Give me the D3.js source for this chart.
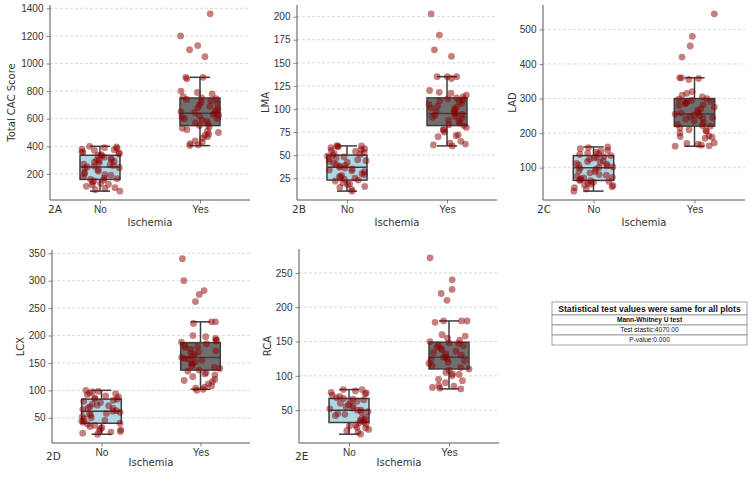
<!DOCTYPE html>
<html><head><meta charset="utf-8">
<script src="https://cdn.jsdelivr.net/npm/d3@7"></script>
<style>
body{margin:0;background:#fff;}
svg{display:block;font-family:"DejaVu Sans",sans-serif;}
</style></head>
<body><svg id="chart" width="750" height="484"></svg>
<script>
// ---------- DATA ----------
const categories = ["No", "Yes"];
const panelLabels = ["2A", "2B", "2C", "2D", "2E"];
const yTitles = ["Total CAC Score", "LMA", "LAD", "LCX", "RCA"];
const xTitle = "Ischemia";

const yTicksA = [200, 400, 600, 800, 1000, 1200, 1400];
const yTicksB = [25, 50, 75, 100, 125, 150, 175, 200];
const yTicksC = [100, 200, 300, 400, 500];
const yTicksD = [50, 100, 150, 200, 250, 300, 350];
const yTicksE = [50, 100, 150, 200, 250];

// box stats [whiskerLow, q1, median, q3, whiskerHigh] per category (No, Yes)
const boxA = [[75, 160, 250, 335, 400], [405, 550, 640, 750, 900]];
const boxB = [[11, 23, 37, 50, 60], [60, 82, 95, 112, 135]];
const boxC = [[32, 63, 100, 135, 160], [162, 220, 255, 300, 360]];
const boxD = [[20, 40, 62, 84, 100], [102, 137, 160, 187, 225]];
const boxE = [[15, 32, 50, 67, 80], [81, 110, 127, 149, 180]];

// individual observations
const ptsA_No = [400,395,390,385,380,375,370,360,355,350,345,340,335,330,320,310,305,300,295,290,285,280,270,265,260,255,250,245,240,230,220,210,200,195,190,180,170,165,160,155,150,140,130,125,120,110,100,95,85,75];
const ptsA_Yes = [405,410,420,430,440,460,470,480,490,500,510,520,530,540,550,560,570,580,590,600,600,610,620,625,630,640,645,650,660,670,680,690,700,710,720,730,740,745,750,760,780,790,800,890,900,900,1050,1100,1130,1200,1360];
const ptsB_No = [11,13,15,16,18,19,20,22,23,24,25,26,27,28,29,30,32,33,34,35,36,37,38,39,40,41,42,43,44,45,46,47,48,49,50,51,52,53,54,55,56,57,58,59,60,60,60];
const ptsB_Yes = [60,61,62,63,65,70,71,72,75,77,78,80,82,83,85,87,88,90,91,92,93,94,95,96,97,98,100,101,102,103,105,106,108,109,110,111,112,113,115,117,118,120,133,135,135,135,157,164,180,203];
const ptsC_No = [32,38,42,45,48,50,52,55,58,60,62,63,65,68,70,72,75,78,80,85,88,90,95,98,100,102,105,108,110,112,115,118,120,125,128,130,132,135,138,140,142,145,148,150,155,158,160];
const ptsC_Yes = [162,163,165,168,170,172,185,188,190,192,200,205,208,210,215,220,222,225,230,235,240,242,245,248,250,252,255,258,260,265,270,275,280,282,285,288,290,292,295,298,300,305,310,315,320,355,358,360,360,420,452,480,545];
const ptsD_No = [20,22,24,25,27,28,30,32,34,36,38,40,42,44,45,48,50,52,55,57,58,60,62,63,65,67,68,70,72,73,75,78,80,82,84,85,86,88,90,92,94,95,97,98,100];
const ptsD_Yes = [100,102,104,106,108,112,116,118,120,125,128,130,132,135,137,140,142,145,148,150,152,155,157,158,160,162,165,168,170,172,175,178,180,182,185,188,190,192,195,198,200,222,225,225,262,275,282,300,340];
const ptsE_No = [15,18,20,22,24,25,27,28,30,32,33,35,36,38,40,42,44,45,47,48,50,50,52,53,55,56,58,60,62,63,65,66,67,68,70,72,74,75,76,78,80,80];
const ptsE_Yes = [81,82,83,85,86,90,93,95,100,102,103,105,108,110,112,115,118,120,122,124,125,127,128,130,132,134,136,138,140,142,144,145,147,148,150,152,155,158,160,178,180,180,180,210,220,226,240,272];

const tableRows = ["Statistical test values were same for all plots", "Mann-Whitney U test", "Test stastic:4070.00", "P-value:0.000"];

// ---------- LAYOUT ----------
const panels = [
  {box: boxA, pts: [ptsA_No, ptsA_Yes], ticks: yTicksA, x0: 50, x1: 250, y0: 5, y1: 200, ylx: 11, lx: 48, ly: 213, xty: 226},
  {box: boxB, pts: [ptsB_No, ptsB_Yes], ticks: yTicksB, x0: 297, x1: 497, y0: 5, y1: 200, ylx: 265, lx: 292, ly: 213, xty: 226},
  {box: boxC, pts: [ptsC_No, ptsC_Yes], ticks: yTicksC, x0: 543, x1: 745, y0: 5, y1: 200, ylx: 512, lx: 537, ly: 213, xty: 226},
  {box: boxD, pts: [ptsD_No, ptsD_Yes], ticks: yTicksD, x0: 52, x1: 250, y0: 250, y1: 443, ylx: 20, lx: 46, ly: 460, xty: 466},
  {box: boxE, pts: [ptsE_No, ptsE_Yes], ticks: yTicksE, x0: 299, x1: 499, y0: 249, y1: 443, ylx: 267, lx: 295, ly: 460, xty: 466}
];

const svg = d3.select("#chart");
const boxFill = ["#add8e6", "#6f6f6f"];
const edge = "#3d3d3d";

// deterministic jitter generator (horizontal spread only)
function lcg(seed){ let s = seed; return () => { s = (s * 1664525 + 1013904223) % 4294967296; return s / 4294967296; }; }

panels.forEach((p, i) => {
  const all = p.pts[0].concat(p.pts[1]);
  const mn = d3.min(all), mx = d3.max(all), pad = (mx - mn) * 0.05;
  const y = d3.scaleLinear().domain([mn - pad, mx + pad]).range([p.y1, p.y0]);
  const x = d3.scaleLinear().domain([-0.5, 1.5]).range([p.x0, p.x1]);
  const g = svg.append("g");

  // grid
  g.selectAll("line.grid").data(p.ticks).join("line")
    .attr("x1", p.x0).attr("x2", p.x1)
    .attr("y1", d => y(d)).attr("y2", d => y(d))
    .attr("stroke", "#d0d0d0").attr("stroke-width", 0.8).attr("stroke-dasharray", "3,2");

  // y axis
  const ya = g.append("g").attr("transform", `translate(${p.x0},0)`)
    .call(d3.axisLeft(y).tickValues(p.ticks).tickFormat(d3.format("d")).tickSize(3.5).tickPadding(3));
  ya.select(".domain").remove();
  ya.selectAll(".tick line").attr("stroke", "#888");
  ya.selectAll("text").attr("font-size", 10).attr("fill", "#333");

  // x axis
  const xa = g.append("g").attr("transform", `translate(0,${p.y1})`)
    .call(d3.axisBottom(x).tickValues([0, 1]).tickFormat(d => categories[d]).tickSize(3.5).tickPadding(2));
  xa.select(".domain").remove();
  xa.selectAll(".tick line").attr("stroke", "#888");
  xa.selectAll("text").attr("font-size", 10).attr("fill", "#333");

  // spines
  g.append("line").attr("x1", p.x0).attr("x2", p.x0).attr("y1", p.y0).attr("y2", p.y1).attr("stroke", "#555").attr("stroke-width", 1);
  g.append("line").attr("x1", p.x0).attr("x2", p.x1).attr("y1", p.y1).attr("y2", p.y1).attr("stroke", "#555").attr("stroke-width", 1);

  // boxes
  p.box.forEach((b, c) => {
    const cx = x(c), hw = (x(0.2) - x(0)), cw = (x(0.1) - x(0));
    const bg = g.append("g");
    bg.append("line").attr("x1", cx).attr("x2", cx).attr("y1", y(b[0])).attr("y2", y(b[1])).attr("stroke", edge).attr("stroke-width", 1.5);
    bg.append("line").attr("x1", cx).attr("x2", cx).attr("y1", y(b[3])).attr("y2", y(b[4])).attr("stroke", edge).attr("stroke-width", 1.5);
    bg.append("line").attr("x1", cx - cw).attr("x2", cx + cw).attr("y1", y(b[0])).attr("y2", y(b[0])).attr("stroke", edge).attr("stroke-width", 1.5);
    bg.append("line").attr("x1", cx - cw).attr("x2", cx + cw).attr("y1", y(b[4])).attr("y2", y(b[4])).attr("stroke", edge).attr("stroke-width", 1.5);
    bg.append("rect").attr("x", cx - hw).attr("width", 2 * hw).attr("y", y(b[3])).attr("height", y(b[1]) - y(b[3]))
      .attr("fill", boxFill[c]).attr("stroke", edge).attr("stroke-width", 1.5);
    bg.append("line").attr("x1", cx - hw).attr("x2", cx + hw).attr("y1", y(b[2])).attr("y2", y(b[2])).attr("stroke", edge).attr("stroke-width", 1.5);
  });

  // points
  p.pts.forEach((arr, c) => {
    const rnd = lcg(1000 * i + 17 * c + 7);
    g.append("g").selectAll("circle").data(arr).join("circle")
      .attr("cx", () => x(c + (rnd() - 0.5) * 0.4))
      .attr("cy", d => y(d))
      .attr("r", 3.4)
      .attr("fill", "#8b0000").attr("fill-opacity", 0.5);
  });

  // labels
  g.append("text").attr("x", p.lx).attr("y", p.ly)
    .attr("font-size", 10.5).attr("fill", "#333").text(panelLabels[i]);
  g.append("text").attr("x", (p.x0 + p.x1) / 2).attr("y", p.xty).attr("text-anchor", "middle")
    .attr("font-size", 10).attr("fill", "#333").text(xTitle);
  g.append("text").attr("transform", `translate(${p.ylx},${(p.y0 + p.y1) / 2}) rotate(-90)`)
    .attr("text-anchor", "middle").attr("dy", "0.35em").attr("font-size", 10).attr("fill", "#333").text(yTitles[i]);
});

// ---------- TABLE ----------
const tx0 = 552, tx1 = 747;
const rowH = [13, 10, 10, 10];
let ty = 302;
const tg = svg.append("g");
tableRows.forEach((t, r) => {
  tg.append("rect").attr("x", tx0).attr("y", ty).attr("width", tx1 - tx0).attr("height", rowH[r])
    .attr("fill", "#fff").attr("stroke", "#8c8c8c").attr("stroke-width", 0.8);
  tg.append("text").attr("x", (tx0 + tx1) / 2).attr("y", ty + rowH[r] / 2).attr("dy", "0.35em")
    .attr("text-anchor", "middle")
    .attr("font-family", "'Liberation Sans', Arial, sans-serif")
    .attr("font-weight", r < 2 ? "bold" : "normal")
    .attr("font-size", r === 0 ? 8.6 : 6.6)
    .attr("fill", "#111").text(t);
  ty += rowH[r];
});
</script>
</body></html>
